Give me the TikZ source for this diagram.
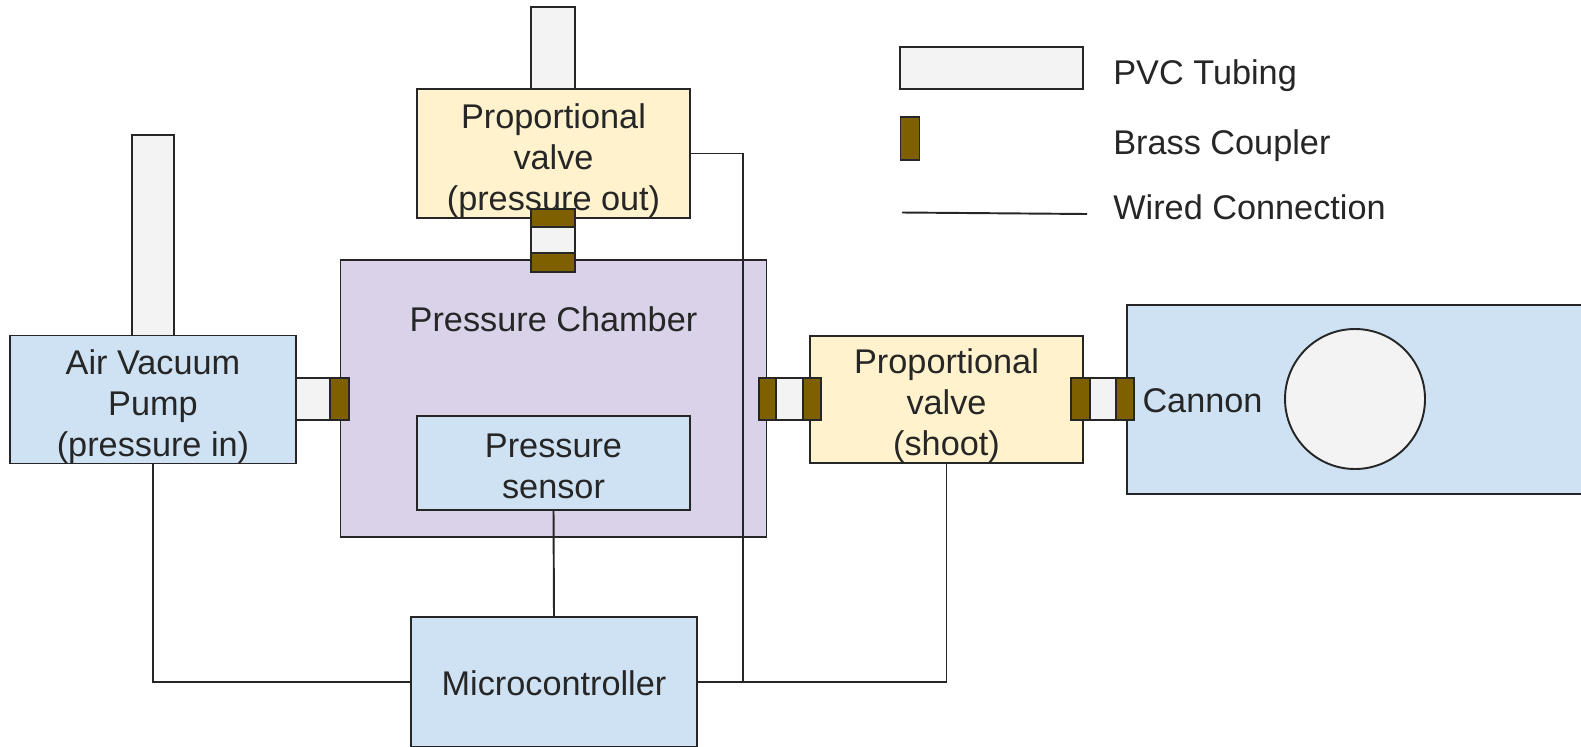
\documentclass[tikz,border=0pt]{standalone}
\usepackage{fontspec}
\setmainfont{Liberation Sans}
\usepackage{xcolor}
\definecolor{boxblue}{HTML}{CFE2F3}
\definecolor{boxyellow}{HTML}{FFF2CC}
\definecolor{boxpurple}{HTML}{D9D2E9}
\definecolor{tubegray}{HTML}{F3F3F3}
\definecolor{brass}{HTML}{7F6000}
\definecolor{inkgray}{HTML}{262626}
\tikzset{
  part/.style={draw=inkgray, line width=1.1pt, inner sep=0pt, outer sep=0pt, align=center,
    text=inkgray, font=\fontsize{19.5}{23.4}\selectfont},
  bluebox/.style={part, fill=boxblue},
  valvebox/.style={part, fill=boxyellow, minimum width=5.46cm},
  tube/.style={part, fill=tubegray},
  coupler/.style={part, fill=brass},
  legendtext/.style={inner sep=0pt, anchor=base west, text=inkgray, font=\fontsize{19.5}{23.4}\selectfont},
  wire/.style={draw=inkgray, line width=1.1pt},
}

\begin{document}
\begin{tikzpicture}
    \useasboundingbox (0,0) rectangle (31.62,-14.92);

    \node[tube, minimum width=0.88cm, minimum height=1.64cm] (tubeout) at (11.06,-0.96) {};
    \node[tube, minimum width=0.84cm, minimum height=4.02cm] (tubein) at (3.06,-4.71) {};

    \node[valvebox, minimum height=2.58cm, text height=68.8pt] (valveout) at (11.07,-3.07) {Proportional\\valve\\(pressure out)};
    \node[part, fill=boxpurple, minimum width=8.52cm, minimum height=5.54cm] (chamber) at (11.07,-7.97) {};
    \node[part, draw=none, fill=none] (chamberlabel) at (11.07,-6.39) {Pressure Chamber};
    \node[bluebox, minimum width=5.46cm, minimum height=1.88cm, text height=41pt] (sensor) at (11.07,-9.26) {Pressure\\sensor};
    \node[bluebox, minimum width=5.72cm, minimum height=2.54cm, text height=68.8pt] (pump) at (3.06,-7.99) {Air Vacuum\\Pump\\(pressure in)};
    \node[valvebox, minimum height=2.54cm, text height=67.5pt] (valveshoot) at (18.93,-7.99) {Proportional\\valve\\(shoot)};
    \node[bluebox, minimum width=9.46cm, minimum height=3.78cm] (cannon) at (27.27,-7.99) {};
    \node[part, draw=none, fill=none] (cannonlabel) at (24.05,-8.01) {Cannon};
    \node[part, circle, fill=tubegray, minimum size=2.8cm] (barrel) at (27.10,-7.98) {};
    \node[bluebox, minimum width=5.72cm, minimum height=2.6cm, text height=15.5pt] (micro) at (11.08,-13.64) {Microcontroller};

    \coordinate (wirejoin) at (14.86,-13.64);
    \draw[wire] (pump.south) |- (micro.west);
    \draw[wire] (sensor.south) -- (micro.north);
    \draw[wire] (micro.east) -| (valveshoot.south);
    \draw[wire] (valveout.east) -| (wirejoin);

    \node[tube, minimum width=0.88cm, minimum height=0.52cm] (tubetop) at (11.06,-4.80) {};
    \node[coupler, minimum width=0.88cm, minimum height=0.36cm] (brasstopa) at (11.06,-4.36) {};
    \node[coupler, minimum width=0.88cm, minimum height=0.38cm] (brasstopb) at (11.06,-5.25) {};

    \node[tube, minimum width=0.68cm, minimum height=0.84cm] (tubepump) at (6.26,-7.98) {};
    \node[coupler, minimum width=0.38cm, minimum height=0.84cm] (brasspump) at (6.79,-7.98) {};

    \node[tube, minimum width=0.54cm, minimum height=0.84cm] (tubeshoot) at (15.79,-7.98) {};
    \node[coupler, minimum width=0.34cm, minimum height=0.84cm] (brassshoota) at (15.35,-7.98) {};
    \node[coupler, minimum width=0.36cm, minimum height=0.84cm] (brassshootb) at (16.24,-7.98) {};

    \node[tube, minimum width=0.52cm, minimum height=0.84cm] (tubecannon) at (22.06,-7.98) {};
    \node[coupler, minimum width=0.38cm, minimum height=0.84cm] (brasscannona) at (21.61,-7.98) {};
    \node[coupler, minimum width=0.36cm, minimum height=0.84cm] (brasscannonb) at (22.50,-7.98) {};

    \node[tube, minimum width=3.66cm, minimum height=0.84cm] (legendtube) at (19.83,-1.36) {};
    \node[coupler, minimum width=0.38cm, minimum height=0.86cm] (legendbrass) at (18.20,-2.77) {};
    \coordinate (legendwirea) at (18.04,-4.25);
    \coordinate (legendwireb) at (21.74,-4.28);
    \draw[wire] (legendwirea) -- (legendwireb);

    \node[legendtext] (tubetext) at (22.26,-1.68) {PVC Tubing};
    \node[legendtext] (brasstext) at (22.26,-3.08) {Brass Coupler};
    \node[legendtext] (wiretext) at (22.26,-4.38) {Wired Connection};
\end{tikzpicture}
\end{document}
